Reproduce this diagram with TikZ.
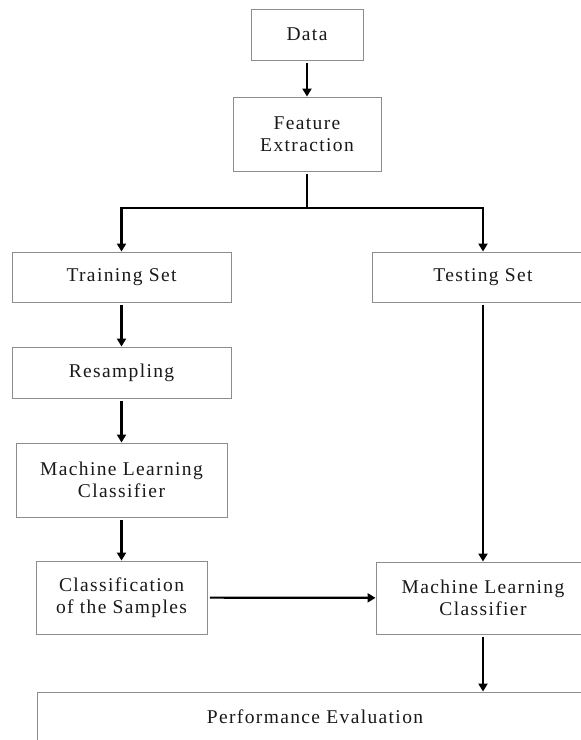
\documentclass[tikz,border=0pt]{standalone}
\usepackage{fontspec}
\setmainfont[LetterSpace=7]{Liberation Serif}
\usetikzlibrary{arrows.meta}

\begin{document}
\begin{tikzpicture}[x=1pt, y=-1pt,
    stage/.style={rectangle, draw=black!45, line width=0.9pt, fill=white, align=center,
                  inner sep=0pt, font=\fontsize{19.5}{22}\selectfont, text=black!90},
    flow/.style={-{Triangle[length=8pt,width=9pt]}, line width=2.2pt, shorten <=2.5pt},
    link/.style={line width=2.2pt, shorten <=2.5pt}]
  \useasboundingbox (0,0) rectangle (581,740);
  \clip (0,0) rectangle (581,740);
  % left branch
  \node[stage, minimum width=112, minimum height=51] (data) at (307,34.5) {Data};
  \node[stage, minimum width=148, minimum height=74] (feat) at (307,134) {Feature\\Extraction};
  \node[stage, minimum width=219, minimum height=50] (train) at (121.5,277) {Training Set};
  \node[stage, minimum width=219, minimum height=51] (resamp) at (121.5,372.5) {Resampling};
  \node[stage, minimum width=211, minimum height=74] (clfa) at (121.5,480) {Machine Learning\\Classifier};
  \node[stage, minimum width=171, minimum height=73] (samples) at (121.5,597.5) {Classification\\of the Samples};
  % right branch
  \node[stage, minimum width=222, minimum height=50] (test) at (483,277) {Testing Set};
  \node[stage, minimum width=214, minimum height=72] (clfb) at (483,598) {Machine Learning\\Classifier};
  \node[stage, minimum width=556, minimum height=50] (perf) at (315,717) {Performance Evaluation};
  \coordinate (split) at (307,208);
  \draw[flow] (data) -- (feat);
  \draw[link] (feat) -- (split);
  \draw[flow, shorten <=0pt] (split) -| (train);
  \draw[flow, shorten <=0pt] (split) -| (test);
  \draw[flow] (train) -- (resamp); \draw[flow] (resamp) -- (clfa);
  \draw[flow] (clfa) -- (samples); \draw[flow] (samples) -- (clfb);
  \draw[flow] (test) -- (clfb);
  \draw[flow] (clfb) -- (clfb |- perf.north);
\end{tikzpicture}
\end{document}
